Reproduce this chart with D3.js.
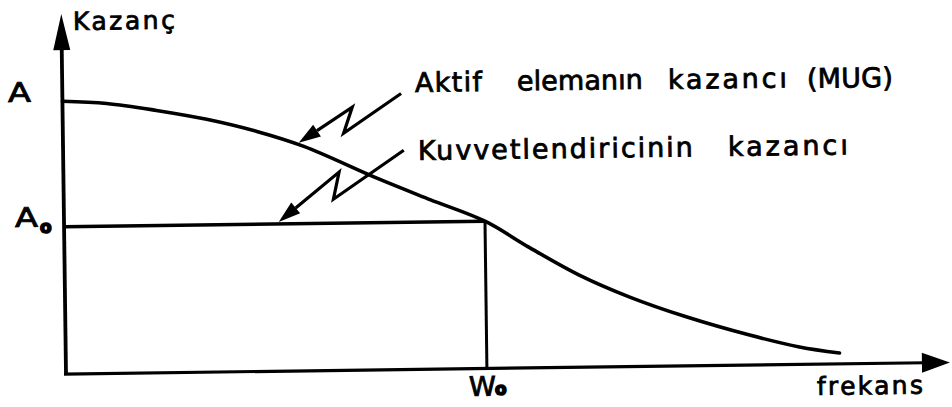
<!DOCTYPE html>
<html>
<head>
<meta charset="utf-8">
<script src="https://cdn.jsdelivr.net/npm/d3@7"></script>
<style>
  html, body { margin: 0; padding: 0; background: #fff; }
  svg { display: block; }
  text { font-family: "DejaVu Sans", sans-serif; fill: #000; stroke: #000; stroke-width: 0.8px; }
</style>
</head>
<body>
<svg id="chart" width="952" height="407"></svg>
<script>
// Normalised frequency (W0 = 1) and active-element gain (A = 1)
const freq = [0, 0.105, 0.223, 0.342, 0.461, 0.572, 0.746, 0.87, 1.0, 1.102, 1.221, 1.34, 1.475, 1.625, 1.743, 1.838];
const gain = [1.0, 0.99, 0.962, 0.927, 0.880, 0.823, 0.702, 0.622, 0.54, 0.444, 0.339, 0.256, 0.180, 0.110, 0.064, 0.040];

// Amplifier gain: flat at A0 up to W0
const ampFreq = [0, 1.0];
const ampGain = [0.54, 0.54];

// Level labels on the gain axis and the marked frequency
const levelLabels = [{ v: 1.0, main: "A", sub: "" }, { v: 0.54, main: "A", sub: "o" }];
const freqLabels = [{ v: 1.0, main: "W", sub: "o" }];

const svg = d3.select("#chart");
const ox = 66, oy = 374, tiltDeg = -0.75;
const s = -tiltDeg * Math.PI / 180;

// page position -> position inside the tilted drawing
function local(sx, sy) {
  const dx = sx - ox, dy = sy - oy;
  return [dx * Math.cos(s) - dy * Math.sin(s), dx * Math.sin(s) + dy * Math.cos(s)];
}

const g = svg.append("g").attr("transform", `translate(${ox},${oy}) rotate(${tiltDeg})`);

const x = d3.scaleLinear().domain([0, 2.1]).range([0, 884]);
const y = d3.scaleLinear().domain([0, 1.32]).range([0, -360]);

// axes
g.append("line").attr("x1", 0).attr("y1", 0).attr("x2", 0).attr("y2", y(1.32) + 30)
  .attr("stroke", "#000").attr("stroke-width", 3.8);
g.append("path").attr("d", `M0,${y(1.32)} L-8.5,${y(1.32) + 36} L8.5,${y(1.32) + 36} Z`).attr("fill", "#000");
g.append("line").attr("x1", -2).attr("y1", 0).attr("x2", x(2.1) - 24).attr("y2", 0)
  .attr("stroke", "#000").attr("stroke-width", 3.2);
g.append("path").attr("d", `M${x(2.1)},0 L${x(2.1) - 28},-10 L${x(2.1) - 28},10 Z`).attr("fill", "#000");

// active element gain (MUG) curve
const pts = freq.map((f, i) => [f, gain[i]]);
g.append("path").datum(pts)
  .attr("d", d3.line().x(d => x(d[0])).y(d => y(d[1])).curve(d3.curveCatmullRom.alpha(0.5)))
  .attr("fill", "none").attr("stroke", "#000").attr("stroke-width", 3.6).attr("stroke-linecap", "round");

// amplifier gain: horizontal at A0, drop at W0
g.append("path").datum(ampFreq.map((f, i) => [f, ampGain[i]]))
  .attr("d", d3.line().x(d => x(d[0])).y(d => y(d[1])))
  .attr("fill", "none").attr("stroke", "#000").attr("stroke-width", 3.6);
g.append("line").attr("x1", x(freqLabels[0].v)).attr("y1", y(ampGain[1]))
  .attr("x2", x(freqLabels[0].v)).attr("y2", 0)
  .attr("stroke", "#000").attr("stroke-width", 3);

// level labels
const levelPos = [local(8, 102), local(15, 227)];
levelLabels.forEach((d, i) => {
  const t = g.append("text").attr("x", levelPos[i][0]).attr("y", levelPos[i][1])
    .attr("font-size", 27);
  t.append("tspan").text(d.main).attr("textLength", 23).attr("lengthAdjust", "spacingAndGlyphs");
  if (d.sub) t.append("tspan").text(d.sub).attr("dx", 2).attr("dy", 6)
    .attr("font-size", 17).attr("font-weight", "bold").attr("stroke-width", 1.6);
});

// frequency label under W0
freqLabels.forEach(d => {
  const p = local(469, 396);
  const t = g.append("text").attr("x", p[0]).attr("y", p[1]).attr("font-size", 27);
  t.append("tspan").text(d.main).attr("textLength", 27).attr("lengthAdjust", "spacingAndGlyphs");
  t.append("tspan").text(d.sub).attr("dx", -1).attr("dy", -1)
    .attr("font-size", 17).attr("font-weight", "bold").attr("stroke-width", 1.6);
});

// axis titles and annotation words
const words = [
  { t: "Kazanç", sx: 73, sy: 30, fs: 25, w: 102 },
  { t: "frekans", sx: 817, sy: 395, fs: 25, w: 106 },
  { t: "Aktif", sx: 415, sy: 92, fs: 27, w: 67 },
  { t: "elemanın", sx: 517, sy: 90.5, fs: 27, w: 126 },
  { t: "kazancı", sx: 668, sy: 89, fs: 27, w: 119 },
  { t: "(MUG)", sx: 807, sy: 88, fs: 27, w: 86 },
  { t: "Kuvvetlendiricinin", sx: 418, sy: 160, fs: 27, w: 275 },
  { t: "kazancı", sx: 728, sy: 156, fs: 27, w: 120 }
];
words.forEach(d => {
  const p = local(d.sx, d.sy);
  g.append("text").attr("x", p[0]).attr("y", p[1]).attr("font-size", d.fs)
    .attr("textLength", d.w).attr("lengthAdjust", "spacing").text(d.t);
});

// lightning-bolt pointers: tip on a gain line, bends given as pixel offsets
const onCurve = d3.scaleLinear().domain(freq).range(gain);
const bolts = [
  { f: 0.56, v: onCurve(0.56), bends: [[103, -48], [45, -9], [54, -35]] },
  { f: 0.51, v: ampGain[0], bends: [[126, -70], [55, -22], [61, -49]] }
];
bolts.forEach(b => {
  const tx = x(b.f), ty = y(b.v) - 2;
  const p = b.bends.map(o => [tx + o[0], ty + o[1]]);
  const last = p[2];
  const ang = Math.atan2(ty - last[1], tx - last[0]);
  const L = 22, Wd = 7;
  const bx = tx - L * Math.cos(ang), by = ty - L * Math.sin(ang);
  g.append("path")
    .attr("d", `M${p[0][0]},${p[0][1]} L${p[1][0]},${p[1][1]} L${p[2][0]},${p[2][1]} L${bx},${by}`)
    .attr("fill", "none").attr("stroke", "#000").attr("stroke-width", 3.2).attr("stroke-linejoin", "miter");
  g.append("path")
    .attr("d", `M${tx},${ty} L${bx - Wd * Math.sin(ang)},${by + Wd * Math.cos(ang)} L${bx + Wd * Math.sin(ang)},${by - Wd * Math.cos(ang)} Z`)
    .attr("fill", "#000");
});
</script>
</body>
</html>
